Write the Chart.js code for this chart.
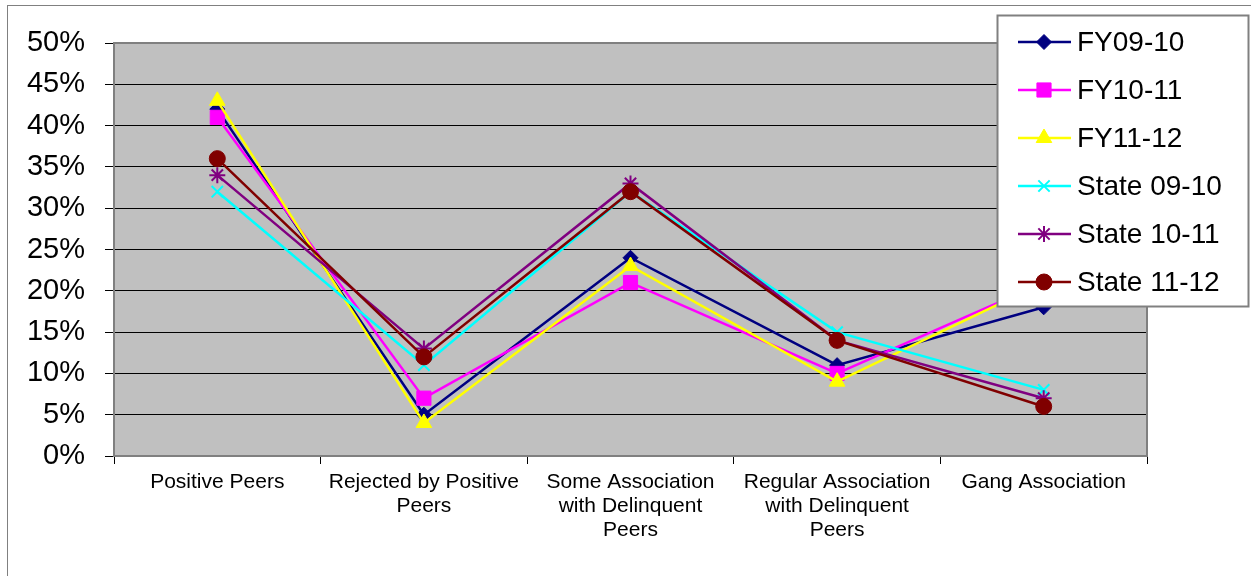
<!DOCTYPE html>
<html>
<head>
<meta charset="utf-8">
<script src="https://cdn.jsdelivr.net/npm/chart.js@4/dist/chart.umd.min.js"></script>
<style>
html,body{margin:0;padding:0;background:#fff;}
#wrap{width:1251px;height:576px;}
</style>
</head>
<body>
<div id="wrap"><canvas id="c" width="1251" height="576"></canvas></div>
<script>
const categories = [
  'Positive Peers',
  ['Rejected by Positive', 'Peers'],
  ['Some Association', 'with Delinquent', 'Peers'],
  ['Regular Association', 'with Delinquent', 'Peers'],
  'Gang Association'
];
const seriesNames = ['FY09-10', 'FY10-11', 'FY11-12', 'State 09-10', 'State 10-11', 'State 11-12'];
const fy0910 = [42, 5, 24, 11, 18];
const fy1011 = [41, 7, 21, 10, 21];
const fy1112 = [43, 4, 23, 9, 21];
const state0910 = [32, 11, 32, 15, 8];
const state1011 = [34, 13, 33, 14, 7];
const state1112 = [36, 12, 32, 14, 6];
const seriesValues = [fy0910, fy1011, fy1112, state0910, state1011, state1112];
const colors = ['#000080', '#FF00FF', '#FFFF00', '#00FFFF', '#800080', '#800000'];
const styles = ['rectRot', 'rect', 'triangle', 'crossRot', 'star', 'circle'];
const radii = [7.5, 10, 9, 8, 8, 8];
const yTicks = [0, 5, 10, 15, 20, 25, 30, 35, 40, 45, 50];

const datasets = seriesNames.map((name, i) => ({
  label: name,
  data: seriesValues[i],
  borderColor: colors[i],
  backgroundColor: colors[i],
  pointBackgroundColor: colors[i],
  pointBorderColor: colors[i],
  pointStyle: styles[i],
  pointRadius: radii[i],
  pointBorderWidth: (styles[i] === 'crossRot' || styles[i] === 'star') ? 2 : 1,
  borderWidth: 2.5,
  tension: 0,
  order: seriesNames.length - i
}));

const bgPlugin = {
  id: 'bg',
  beforeDraw(chart) {
    const ctx = chart.ctx, a = chart.chartArea;
    ctx.save();
    ctx.fillStyle = '#fff';
    ctx.fillRect(0, 0, chart.width, chart.height);
    ctx.strokeStyle = '#808080';
    ctx.lineWidth = 1;
    ctx.strokeRect(7.5, 5.5, 1400, 800);
    ctx.fillStyle = '#C0C0C0';
    ctx.fillRect(a.left, a.top, a.right - a.left, a.bottom - a.top);
    ctx.restore();
  },
  afterDatasetsDraw(chart) {
    const ctx = chart.ctx, a = chart.chartArea;
    ctx.save();
    ctx.strokeStyle = '#808080';
    ctx.lineWidth = 2;
    ctx.strokeRect(a.left, a.top, a.right - a.left, a.bottom - a.top);
    ctx.restore();
  },
  afterDraw(chart) {
    const ctx = chart.ctx;
    ctx.save();
    const bx = 997.5, by = 15.5, bw = 251, bh = 291;
    ctx.fillStyle = '#fff';
    ctx.fillRect(bx, by, bw, bh);
    ctx.strokeStyle = '#808080';
    ctx.lineWidth = 2;
    ctx.strokeRect(bx, by, bw, bh);
    ctx.font = '28px "Liberation Sans", Arial, sans-serif';
    ctx.textBaseline = 'middle';
    ctx.textAlign = 'left';
    seriesNames.forEach((name, i) => {
      const y = 42 + i * 48;
      ctx.strokeStyle = colors[i];
      ctx.lineWidth = 2.5;
      ctx.beginPath();
      ctx.moveTo(1018, y);
      ctx.lineTo(1071, y);
      ctx.stroke();
      ctx.fillStyle = colors[i];
      ctx.strokeStyle = colors[i];
      const bwid = (styles[i] === 'crossRot' || styles[i] === 'star') ? 2 : 1;
      ctx.lineWidth = bwid;
      Chart.helpers.drawPoint(ctx, {pointStyle: styles[i], radius: radii[i], rotation: 0, borderWidth: bwid}, 1044, y);
      ctx.fillStyle = '#000';
      ctx.fillText(name, 1077, y + 1);
    });
    ctx.restore();
  }
};

new Chart(document.getElementById('c'), {
  type: 'line',
  data: { labels: categories, datasets },
  plugins: [bgPlugin],
  options: {
    responsive: false,
    animation: false,
    layout: { padding: { left: 0, right: 104, top: 43, bottom: 0 } },
    plugins: { legend: { display: false }, tooltip: { enabled: false } },
    scales: {
      x: {
        offset: true,
        grid: { offset: true, drawOnChartArea: false, drawTicks: true, tickLength: 8, color: '#000', lineWidth: 1 },
        border: { display: true, color: '#808080', width: 2 },
        ticks: {
          color: '#000',
          font: { family: '"Liberation Sans", Arial, sans-serif', size: 21, lineHeight: 1.15 },
          padding: 6,
          maxRotation: 0,
          minRotation: 0,
          autoSkip: false
        },
        afterFit(scale) { scale.height = 120; }
      },
      y: {
        min: 0,
        max: 50,
        afterBuildTicks(scale) { scale.ticks = yTicks.map(v => ({ value: v })); },
        grid: { color: '#000', lineWidth: 1, tickLength: 9, drawTicks: true },
        border: { display: true, color: '#808080', width: 2 },
        ticks: {
          color: '#000',
          font: { family: '"Liberation Sans", Arial, sans-serif', size: 29 },
          padding: 20,
          callback: v => v + '%'
        },
        afterFit(scale) { scale.width = 114; }
      }
    }
  }
});
</script>
</body>
</html>
